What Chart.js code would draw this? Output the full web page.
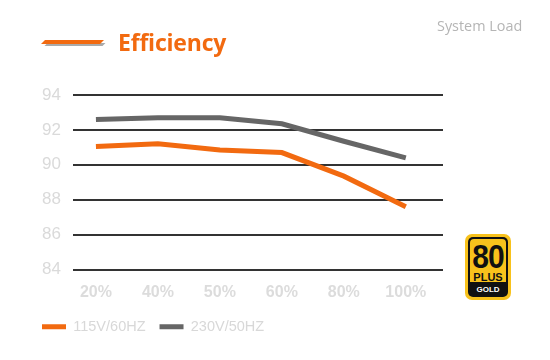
<!DOCTYPE html>
<html><head><meta charset="utf-8">
<script src="https://cdn.jsdelivr.net/npm/chart.js@4/dist/chart.umd.min.js"></script>
<style>
html,body{margin:0;padding:0;background:#fff;}
#wrap{position:relative;width:550px;height:360px;overflow:hidden;}
#c{position:absolute;left:0;top:0;}
.title{position:absolute;left:118px;top:27px;font-family:"Open Sans",sans-serif;font-weight:700;font-size:23px;color:#f26a10;letter-spacing:-0.2px;line-height:30px;}
.dash{position:absolute;left:43px;top:40px;width:59px;height:4px;background:#f26a10;transform:skewX(-45deg);}
.dashs{position:absolute;left:46px;top:43px;width:58px;height:3px;background:#aaa;transform:skewX(-45deg);}
.sys{position:absolute;left:437px;top:16px;font-family:"Open Sans",sans-serif;font-size:14.4px;color:#b5b5b5;}
.badge{position:absolute;left:465px;top:234px;width:46px;height:66px;background:#f8c21c;border-radius:7px;}
.badge .in{position:absolute;left:3px;top:3px;right:3px;bottom:3px;background:#111;border-radius:5px;}
.badge .y{position:absolute;left:2px;top:2px;right:2px;bottom:15px;background:#f8c21c;border-radius:4px 4px 0 0;text-align:center;font-family:"Liberation Sans Narrow","Liberation Sans",sans-serif;font-weight:700;color:#111;}
.badge .n80{font-size:30px;line-height:28px;margin-top:2px;letter-spacing:-1px;transform:scaleY(1.12);transform-origin:50% 0;}
.badge .plus{font-size:11px;line-height:11px;margin-top:3px;}
.badge .gold{position:absolute;left:0;right:0;bottom:1px;text-align:center;font-family:"Liberation Sans",sans-serif;font-weight:700;font-size:8px;color:#fff;line-height:12px;}
</style></head>
<body><div id="wrap">
<canvas id="c" width="550" height="360"></canvas>
<div class="dashs"></div><div class="dash"></div>
<div class="title">Efficiency</div>
<div class="sys">System Load</div>
<div class="badge"><div class="in"><div class="y"><div class="n80">80</div><div class="plus">PLUS</div></div><div class="gold">GOLD</div></div></div>
</div>
<script>
const categories = ["20%", "40%", "50%", "60%", "80%", "100%"];
const series115 = [91.05, 91.2, 90.85, 90.7, 89.35, 87.6];
const series230 = [92.6, 92.7, 92.7, 92.35, 91.35, 90.4];
const seriesNames = ["115V/60HZ", "230V/50HZ"];
const yTicks = [84, 86, 88, 90, 92, 94];

const toPts = arr => arr.map((v, i) => ({x: i, y: v}));

new Chart(document.getElementById('c'), {
  type: 'line',
  data: {
    datasets: [
      {label: seriesNames[0], data: toPts(series115), borderColor: '#f26a10', backgroundColor: '#f26a10', borderWidth: 5, pointRadius: 0, tension: 0, borderCapStyle: 'butt'},
      {label: seriesNames[1], data: toPts(series230), borderColor: '#666666', backgroundColor: '#666666', borderWidth: 5, pointRadius: 0, tension: 0, borderCapStyle: 'butt'}
    ]
  },
  options: {
    responsive: false,
    animation: false,
    devicePixelRatio: 1,
    layout: {padding: {left: 28, right: 107, top: 95, bottom: 16}},
    plugins: {
      tooltip: {enabled: false},
      legend: {
        position: 'bottom', align: 'start',
        labels: {
          boxWidth: 24, boxHeight: 5, padding: 14, color: '#d8d8d8',
          font: {family: 'Liberation Sans', size: 14.5},
          generateLabels: chart => chart.data.datasets.map((d, i) => ({
            text: d.label, fillStyle: d.borderColor, strokeStyle: d.borderColor,
            lineWidth: 0, hidden: false, datasetIndex: i, fontColor: '#d8d8d8'
          }))
        }
      }
    },
    scales: {
      x: {
        type: 'linear', min: -0.37, max: 5.6,
        grid: {display: false, drawTicks: false},
        border: {display: false},
        afterBuildTicks: s => { s.ticks = categories.map((c, i) => ({value: i})); },
        afterFit: s => { s.height = 36; },
        ticks: {
          callback: v => categories[v],
          color: '#dcdcdc', padding: 13, maxRotation: 0,
          font: {family: 'Liberation Sans', size: 16, weight: 'bold'}
        }
      },
      y: {
        min: 84, max: 94,
        afterBuildTicks: s => { s.ticks = yTicks.map(v => ({value: v})); },
        afterFit: s => { s.width = 45; },
        grid: {color: '#333333', lineWidth: 2, drawTicks: false},
        border: {display: false},
        ticks: {color: '#dadada', padding: 12, font: {family: 'Liberation Sans', size: 17}}
      }
    }
  }
});
</script>
</body></html>
